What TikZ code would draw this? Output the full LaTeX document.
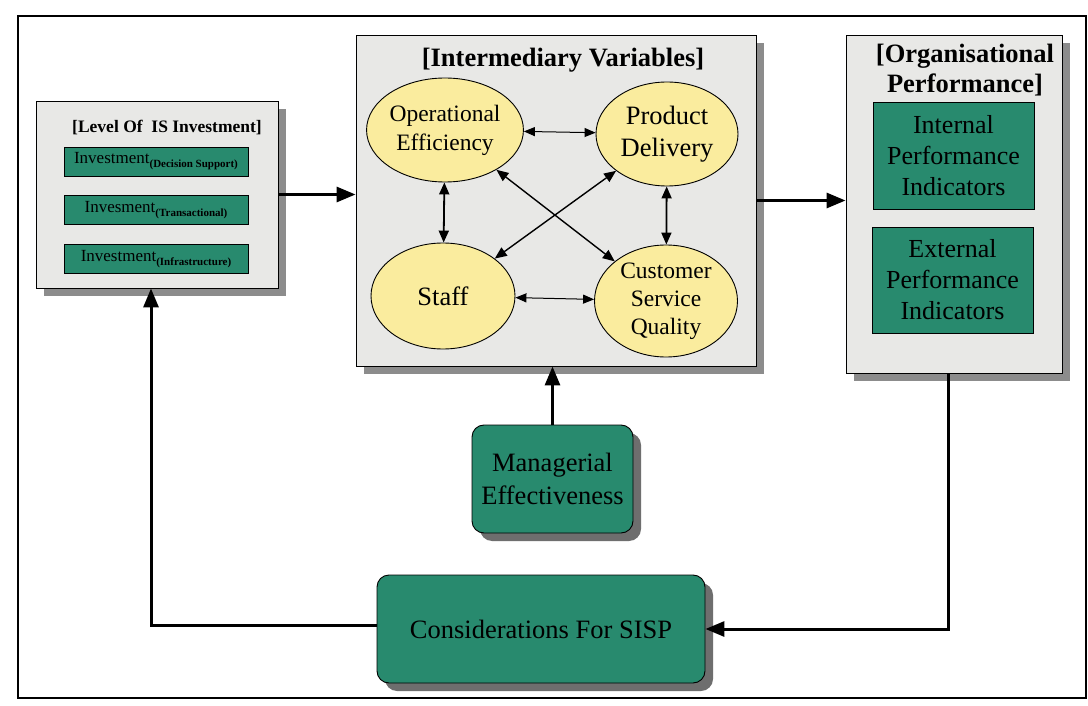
\documentclass[tikz,border=0pt]{standalone}
\usepackage{fontspec}
\setmainfont{Liberation Serif}
\usetikzlibrary{shapes.geometric,arrows.meta,shadows}

\definecolor{boxgreen}{RGB}{40,138,110}
\definecolor{ovalyellow}{RGB}{250,236,158}
\definecolor{panelgray}{RGB}{232,232,230}
\definecolor{shadegray}{RGB}{140,140,140}
\definecolor{darkshade}{RGB}{110,110,110}

\newcommand{\fs}[2]{\fontsize{#1}{#2}\selectfont}

\tikzset{
  panel/.style={draw=black, line width=0.9pt, fill=panelgray, inner sep=0pt,
    general shadow={fill=shadegray, shadow xshift=8pt, shadow yshift=-8pt}},
  greenbar/.style={draw=black, line width=0.8pt, fill=boxgreen, inner sep=0pt,
    font=\fs{17}{20}},
  greenbox/.style={draw=black, line width=0.9pt, fill=boxgreen, inner sep=0pt,
    align=center, font=\fs{26}{31}},
  roundbox/.style={draw=black, line width=0.9pt, fill=boxgreen, inner sep=0pt,
    rounded corners=12pt, align=center, font=\fs{26.5}{33},
    general shadow={fill=darkshade, shadow xshift=8pt, shadow yshift=-8pt}},
  oval/.style={ellipse, draw=black, line width=0.9pt, fill=ovalyellow,
    inner sep=0pt, align=center},
  paneltitle/.style={align=center, inner sep=0pt},
  bigarrow/.style={line width=3pt, -{Triangle[length=19pt,width=15pt]}},
  linkthin/.style={line width=1pt,
    {Triangle[length=11pt,width=9pt]}-{Triangle[length=11pt,width=9pt]}},
  linkthick/.style={line width=1.8pt,
    {Triangle[length=12pt,width=10pt]}-{Triangle[length=12pt,width=10pt]}},
}

\begin{document}
\begin{tikzpicture}[x=1pt,y=-1pt]
\useasboundingbox (0,0) rectangle (1088,706);
\fill[white] (0,0) rectangle (1088,706);

% outer frame
\draw[line width=1.3pt] (18,16) rectangle (1086,698);

% left panel: level of IS investment
\node[panel, minimum width=242pt, minimum height=187pt] (lvl) at (157,194.5) {};
\node[paneltitle, font=\bfseries\fs{17.5}{20}] (lvltitle) at (167,128) {[Level Of\ \ IS Investment]};
\node[greenbar, minimum width=184pt, minimum height=29pt] (inv1) at (156,161.5)
  {Investment\raisebox{-4pt}{\bfseries\fs{11}{12}(Decision Support)}};
\node[greenbar, minimum width=184pt, minimum height=29pt] (inv2) at (156,210)
  {Invesment\raisebox{-4pt}{\bfseries\fs{11}{12}(Transactional)}};
\node[greenbar, minimum width=184pt, minimum height=29pt] (inv3) at (156,259)
  {Investment\raisebox{-4pt}{\bfseries\fs{11}{12}(Infrastructure)}};

% middle panel: intermediary variables
\node[panel, minimum width=400pt, minimum height=331pt] (mid) at (556,200.5) {};
\node[paneltitle, font=\bfseries\fs{26.5}{30}] (midtitle) at (563,60) {[Intermediary Variables]};
\node[oval, minimum width=144pt, minimum height=104pt, font=\fs{23.5}{29}]
  (oe) at (445,130) {Operational\\Efficiency};
\node[oval, minimum width=142pt, minimum height=104pt, font=\fs{26.5}{32}]
  (pd) at (667,134) {Product\\Delivery};
\node[oval, minimum width=144pt, minimum height=106pt, font=\fs{26.5}{31}]
  (st) at (443,296) {Staff};
\node[oval, minimum width=143pt, minimum height=112pt, font=\fs{23.5}{28}]
  (csq) at (666,301) {Customer\\Service\\Quality};

\draw[linkthin] (oe) -- (pd);
\draw[linkthin] (st) -- (csq);
\draw[linkthick] (oe) -- (st);
\draw[linkthick] (pd) -- (csq);
\draw[linkthick, line width=1.4pt] (oe) -- (csq);
\draw[linkthick, line width=1.4pt] (pd) -- (st);

% right panel: organisational performance
\node[panel, minimum width=216pt, minimum height=338pt] (org) at (954,204) {};
\node[paneltitle, font=\bfseries\fs{26.5}{30}] (orgtitle) at (965,70)
  {[Organisational\\Performance]};
\node[greenbox, minimum width=161pt, minimum height=107pt] (ipi) at (953.5,155.5)
  {Internal\\Performance\\Indicators};
\node[greenbox, minimum width=161pt, minimum height=106pt] (epi) at (952.5,280)
  {External\\Performance\\Indicators};

% lower boxes
\node[roundbox, minimum width=161pt, minimum height=108pt] (mgr) at (552.5,479)
  {Managerial\\Effectiveness};
\node[roundbox, minimum width=328pt, minimum height=108pt] (sisp) at (541,629)
  {Considerations For SISP};

% main flow
\draw[bigarrow] (lvl.east) -- (lvl.east -| mid.west);
\draw[bigarrow] (mid.east) -- (mid.east -| org.west);
\draw[bigarrow] (mgr.north) -- (mgr.north |- mid.south);
\draw[bigarrow] ([xshift=-6pt]org.south) |- (sisp.east);
\draw[bigarrow] ([yshift=4pt]sisp.west) -| ([xshift=-6pt]lvl.south);
\end{tikzpicture}
\end{document}
